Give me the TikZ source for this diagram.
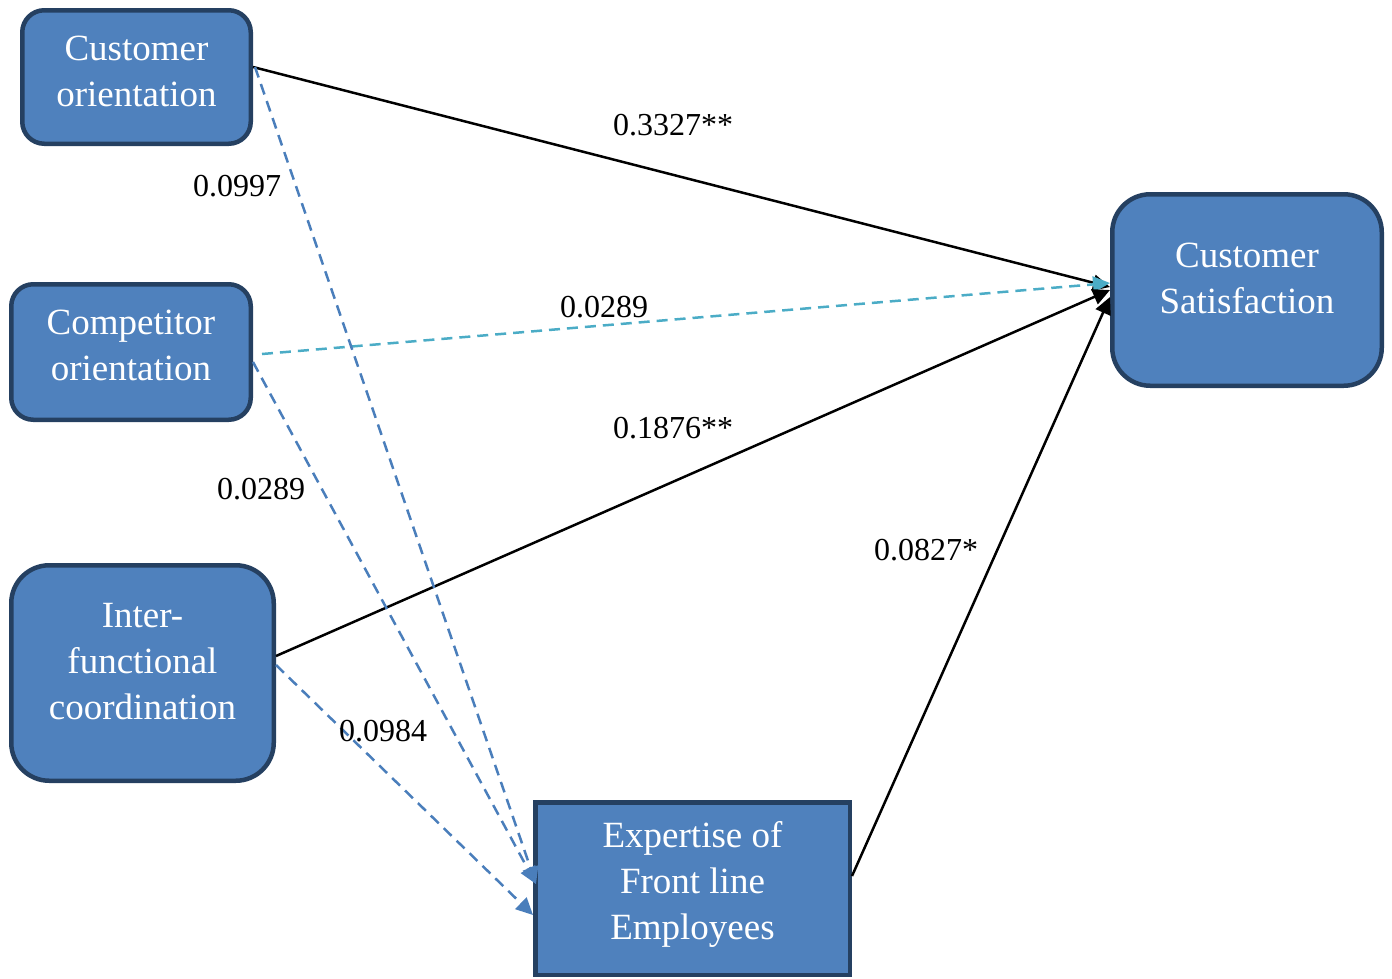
\documentclass[tikz,border=0pt]{standalone}
\usepackage{fontspec}
\setmainfont{Liberation Serif}
\usetikzlibrary{arrows.meta}
\definecolor{boxfill}{HTML}{4F81BD}
\definecolor{boxline}{HTML}{254061}
\definecolor{tealc}{HTML}{4BACC6}
\definecolor{bluec}{HTML}{4A7EBB}
\begin{document}
\begin{tikzpicture}[x=1pt,y=-1pt,
  box/.style={draw=boxline,fill=boxfill,line width=4.5pt,inner sep=0pt},
  boxtext/.style={text=white,align=center,font=\fontsize{37}{46}\selectfont,inner sep=0pt},
  lbl/.style={font=\fontsize{32}{38}\selectfont,text=black,inner sep=0pt},
  tip/.style={-{Triangle[length=17pt,width=16pt]}},
  solidarr/.style={tip,draw=black,line width=2.5pt},
  dasharr/.style={tip,line width=2.5pt,dash pattern=on 11pt off 7pt},
]
\useasboundingbox (0,0) rectangle (1392,978);
\node[box,rounded corners=22pt,minimum width=228.5pt,minimum height=133.5pt] (co) at (136.5,77) {};
\node[box,rounded corners=22pt,minimum width=239.5pt,minimum height=135.5pt] (cp) at (131,352) {};
\node[box,rounded corners=38pt,minimum width=262.5pt,minimum height=215.5pt] (ifc) at (142.5,673) {};
\node[box,minimum width=314.5pt,minimum height=172.5pt] (ex) at (692.5,888.5) {};
\node[box,rounded corners=38pt,minimum width=269.5pt,minimum height=191.5pt] (cs) at (1247,290) {};

\node[boxtext] (cot) at ([yshift=6pt]co.center) {Customer\\orientation};
\node[boxtext] (cpt) at ([yshift=7pt]cp.center) {Competitor\\orientation};
\node[boxtext] (ifct) at ([yshift=11pt]ifc.center) {Inter-\\functional\\coordination};
\node[boxtext] (ext) at ([yshift=4pt]ex.center) {Expertise of\\Front line\\Employees};
\node[boxtext] (cst) at ([yshift=12pt]cs.center) {Customer\\Satisfaction};

\draw[solidarr] ([yshift=10pt]co.east) -- ([yshift=3pt]cs.west);
\draw[dasharr,draw=tealc,tealc] ([xshift=9pt,yshift=-2pt]cp.east) -- ([yshift=7pt]cs.west);
\draw[solidarr] ([yshift=17pt]ifc.east) -- ([yshift=0pt]cs.west);
\draw[solidarr] ([yshift=12.5pt]ex.east) -- ([yshift=-7pt]cs.west);
\draw[dasharr,draw=bluec,bluec] ([xshift=2pt,yshift=10pt]co.east) -- ([xshift=3pt,yshift=4.5pt]ex.west);
\draw[dasharr,draw=bluec,bluec] ([yshift=-10pt]cp.east) -- ([xshift=3pt,yshift=4.5pt]ex.west);
\draw[dasharr,draw=bluec,bluec] ([yshift=8pt]ifc.east) -- ([yshift=-26.5pt]ex.west);

\node[lbl] (l1) at (673,125) {0.3327**};
\node[lbl] (l2) at (237,186) {0.0997};
\node[lbl] (l3) at (604,307) {0.0289};
\node[lbl] (l4) at (673,428) {0.1876**};
\node[lbl] (l5) at (261,489) {0.0289};
\node[lbl] (l6) at (926,550) {0.0827*};
\node[lbl] (l7) at (383,731) {0.0984};
\end{tikzpicture}
\end{document}
